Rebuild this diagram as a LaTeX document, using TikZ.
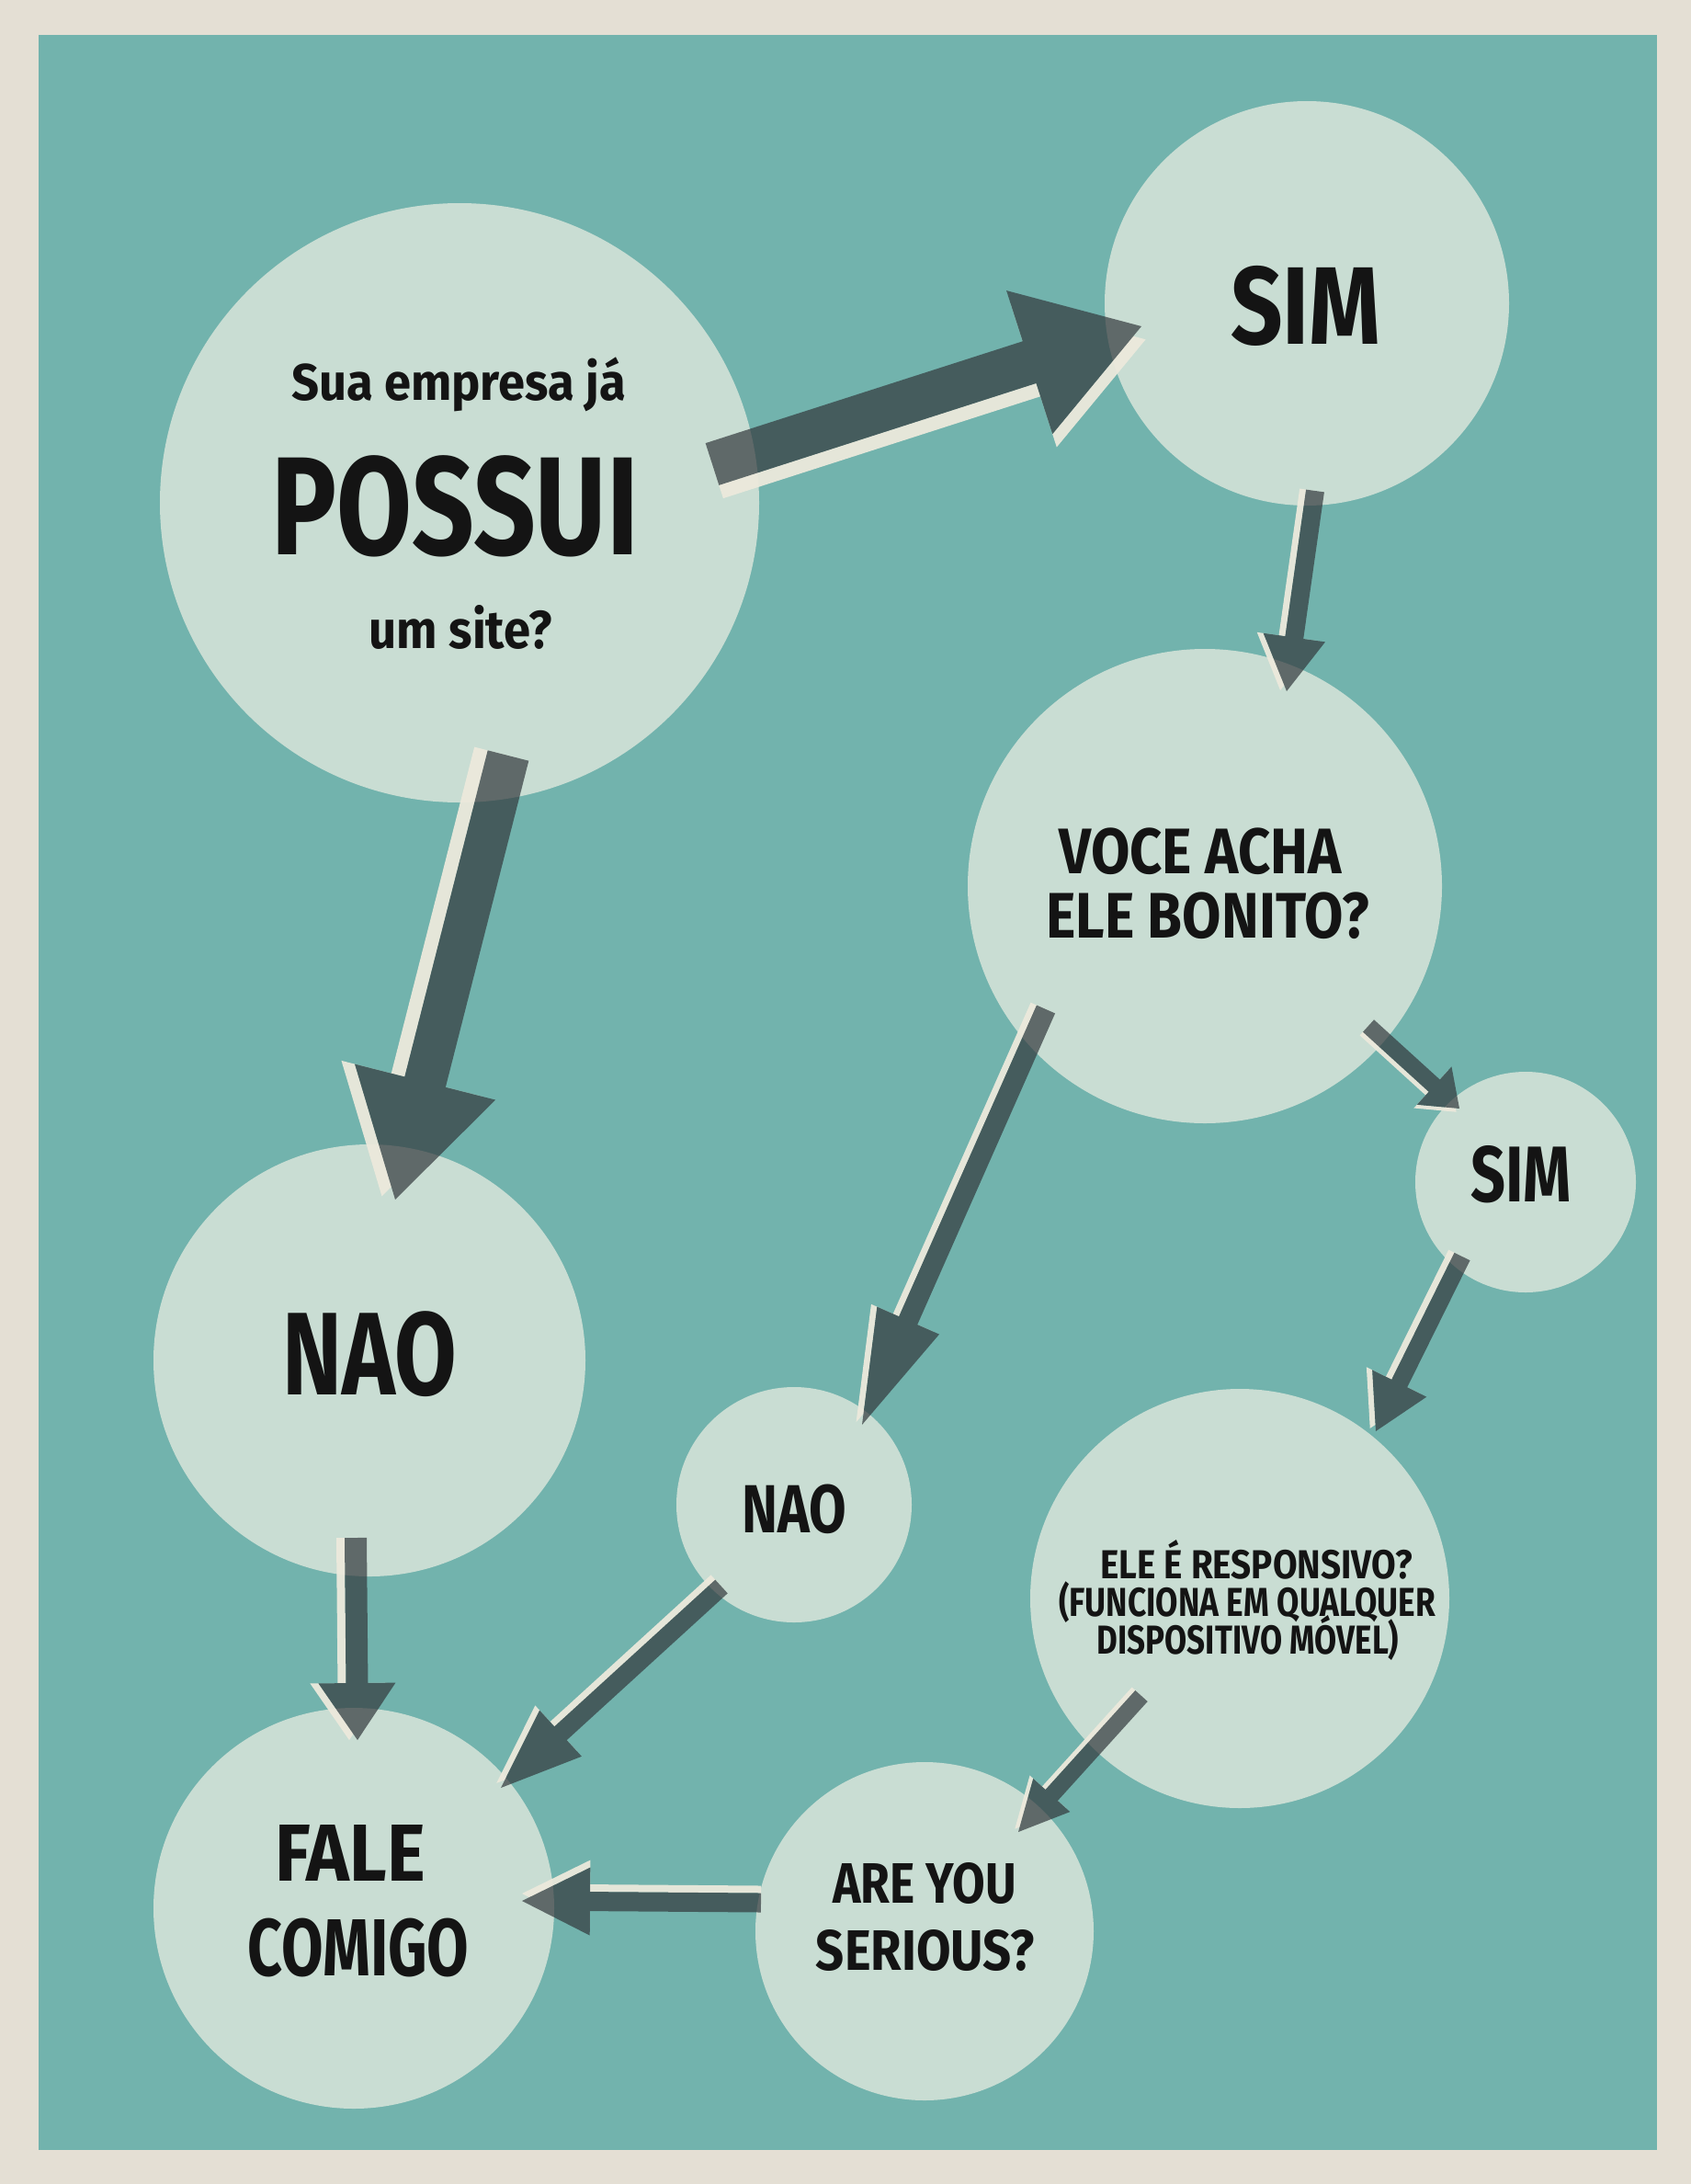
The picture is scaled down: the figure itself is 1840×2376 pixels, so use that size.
\documentclass[tikz,border=0pt]{standalone}
\usepackage{fontspec}
\usepackage{graphicx}
\newfontfamily\dinfont{Fira Sans}[FakeStretch=0.75]
\usetikzlibrary{calc}
\definecolor{pagebg}{HTML}{E4DFD4}
\definecolor{tealbg}{HTML}{72B3AD}
\definecolor{bubblefill}{HTML}{C9DDD3}
\definecolor{arrowcol}{HTML}{32383C}
\definecolor{creamcol}{HTML}{ECE9DC}
\definecolor{ink}{HTML}{141414}
\newcommand\txtsize[1]{\fontsize{#1}{#1}\selectfont}
\newcommand\wide[2]{\scalebox{#1}[1]{#2}}
\tikzset{
  bubble/.style={circle, fill=bubblefill, inner sep=0pt, draw=none},
  txt/.style={anchor=base, text=ink, inner sep=0pt},
  arrowdark/.style={fill=arrowcol, fill opacity=0.7},
  arrowcream/.style={fill=creamcol, fill opacity=0.95},
}
% points of an arrow polygon: tail, tip, shaft half width, head half width, head length, prefix
\newcommand\arrowpts[6]{%
  \coordinate (#6b) at ($(#2)!#5!(#1)$);
  \coordinate (#61) at ($(#1)!#3!90:(#2)$);
  \coordinate (#62) at ($(#6b)!#3!90:(#2)$);
  \coordinate (#63) at ($(#6b)!#4!90:(#2)$);
  \coordinate (#65) at ($(#6b)!#4!-90:(#2)$);
  \coordinate (#66) at ($(#6b)!#3!-90:(#2)$);
  \coordinate (#67) at ($(#1)!#3!-90:(#2)$);
}
% tail, tip, shaft half width, head half width, head length, cream offset
\newcommand\flowarrow[6]{%
  \coordinate (ct) at ($(#1)!#6!-90:(#2)$);
  \coordinate (cp) at ($(#2)!#6!90:(#1)$);
  \arrowpts{#1}{#2}{#3}{#4}{#5}{d}
  \arrowpts{ct}{cp}{#3}{#4}{#5}{c}
  \begin{scope}[even odd rule]
    \clip (-50,-50) rectangle (1900,2450)
      (d1) -- (d2) -- (d3) -- (#2) -- (d5) -- (d6) -- (d7) -- cycle;
    \fill[arrowcream] (c1) -- (c2) -- (c3) -- (cp) -- (c5) -- (c6) -- (c7) -- cycle;
  \end{scope}
  \fill[arrowdark] (d1) -- (d2) -- (d3) -- (#2) -- (d5) -- (d6) -- (d7) -- cycle;
}
\begin{document}
\begin{tikzpicture}[x=0.5pt,y=-0.5pt]
\useasboundingbox (0,0) rectangle (1840,2376);
\fill[pagebg] (0,0) rectangle (1840,2376);
\fill[tealbg] (42,38) rectangle (1803,2339);

% bubbles
\node[bubble, minimum size=326pt] (possui) at (500,547) {};
\node[bubble, minimum size=220pt] (sim1) at (1422,330) {};
\node[bubble, minimum size=258pt] (voce) at (1311,964) {};
\node[bubble, minimum size=120pt] (sim2) at (1660,1286) {};
\node[bubble, minimum size=235pt] (nao1) at (402,1480) {};
\node[bubble, minimum size=128pt] (nao2) at (864,1637) {};
\node[bubble, minimum size=228pt] (ele) at (1349,1739) {};
\node[bubble, minimum size=184pt] (are) at (1006,2101) {};
\node[bubble, minimum size=218pt] (fale) at (385,2076) {};

% arrows
\coordinate (a1t) at (775,505);  \coordinate (a1h) at (1242,355);
\coordinate (a2t) at (553,822);  \coordinate (a2h) at (430,1305);
\coordinate (a3t) at (1431,534); \coordinate (a3h) at (1400,752);
\coordinate (a4t) at (1138,1098);\coordinate (a4h) at (938,1550);
\coordinate (a5t) at (1489,1116);\coordinate (a5h) at (1588,1206);
\coordinate (a6t) at (1591,1367);\coordinate (a6h) at (1497,1557);
\coordinate (a7t) at (387,1673); \coordinate (a7h) at (389,1893);
\coordinate (a8t) at (785,1726); \coordinate (a8h) at (545,1945);
\coordinate (a9t) at (828,2070); \coordinate (a9h) at (568,2068);
\coordinate (a10t) at (1242,1845);\coordinate (a10h) at (1108,1993);

\flowarrow{a1t}{a1h}{12pt}{41pt}{64pt}{7.5pt}
\flowarrow{a2t}{a2h}{11.5pt}{39.5pt}{66pt}{7.5pt}
\flowarrow{a3t}{a3h}{5pt}{17pt}{29.5pt}{3.5pt}
\flowarrow{a4t}{a4h}{5.5pt}{18.5pt}{62pt}{3.5pt}
\flowarrow{a5t}{a5h}{4.5pt}{14pt}{18.5pt}{2.5pt}
\flowarrow{a6t}{a6h}{4.75pt}{16.5pt}{29pt}{3.5pt}
\flowarrow{a7t}{a7h}{6pt}{21pt}{31pt}{4.5pt}
\flowarrow{a8t}{a8h}{5pt}{17pt}{44pt}{3.5pt}
\flowarrow{a9t}{a9h}{5.25pt}{18.5pt}{37pt}{4pt}
\flowarrow{a10t}{a10h}{4.5pt}{13.5pt}{27pt}{2.5pt}

% texts
\begin{scope}[every node/.append style={font=\dinfont\bfseries}]
\node[txt] (tsua) at (499,435) {\txtsize{28}\wide{1.25}{Sua empresa já}};
\node[txt] (tpossui) at (495,603) {\txtsize{76}\wide{1.04}{POSSUI}};
\node[txt] (tsite) at (501,705) {\txtsize{29}\wide{1.21}{um site?}};
\node[txt] (tsim1) at (1421,374) {\txtsize{60}\wide{1.1}{SIM}};
\node[txt] (tvoce1) at (1306,950) {\txtsize{35}\wide{1.17}{VOCE ACHA}};
\node[txt] (tvoce2) at (1314,1020) {\txtsize{35}\wide{1.17}{ELE BONITO?}};
\node[txt] (tsim2) at (1655,1307) {\txtsize{43}\wide{1.03}{SIM}};
\node[txt] (tnao1) at (402,1517) {\txtsize{64}\wide{1.02}{NAO}};
\node[txt] (tnao2) at (864,1667) {\txtsize{37}\wide{1.06}{NAO}};
\node[txt] (tele1) at (1367,1717) {\txtsize{22}\wide{1.17}{ELE É RESPONSIVO?}};
\node[txt] (tele2) at (1357,1758) {\txtsize{22}\wide{1.07}{(FUNCIONA EM QUALQUER}};
\node[txt] (tele3) at (1358,1799) {\txtsize{22}\wide{1.06}{DISPOSITIVO MÓVEL)}};
\node[txt] (tare1) at (1006,2070) {\txtsize{31}\wide{1.11}{ARE YOU}};
\node[txt] (tare2) at (1007,2143) {\txtsize{31}\wide{1.17}{SERIOUS?}};
\node[txt] (tfale1) at (381,2046) {\txtsize{44}\wide{1.2}{FALE}};
\node[txt] (tfale2) at (390,2149) {\txtsize{44}\wide{1.0}{COMIGO}};
\end{scope}
\end{tikzpicture}
\end{document}
